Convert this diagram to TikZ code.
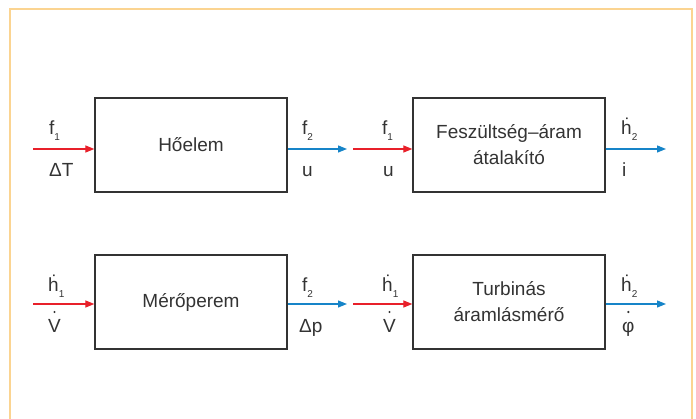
\documentclass[tikz,border=0pt]{standalone}
\usepackage{fontspec}
\setmainfont{Liberation Sans}
\usetikzlibrary{arrows.meta}

\definecolor{framecol}{RGB}{251,212,145}
\definecolor{inred}{RGB}{232,32,42}
\definecolor{outblue}{RGB}{22,132,200}
\definecolor{ink}{RGB}{51,51,51}

% lowered small index
\newcommand\idx[1]{\raisebox{-0.3em}{\fontsize{10}{10}\selectfont #1}}

\tikzset{
  block/.style={draw=ink, line width=1.3pt, minimum width=192pt, minimum height=94pt,
    inner sep=0pt, align=center, text=ink, font=\fontsize{19}{26}\selectfont},
  sig/.style={anchor=base west, inner sep=0pt, text=ink, font=\fontsize{19}{22}\selectfont},
  timedot/.style={fill=ink},
  inarrow/.style={draw=inred, line width=1.2pt, -{Triangle[length=9pt,width=7pt]}},
  outarrow/.style={draw=outblue, line width=1.2pt, -{Triangle[length=9pt,width=7pt]}},
}

\begin{document}
\begin{tikzpicture}[x=1pt, y=-1pt]
\useasboundingbox (0,0) rectangle (696,419);

% page frame (open at the bottom edge)
\draw[framecol, line width=2.4pt] (10,430) -- (10,9) -- (692,9) -- (692,430);

% blocks
\node[block] (b1) at (191,145) {Hőelem};
\node[block] (b2) at (509,145) {Feszültség–áram\\átalakító};
\node[block] (b3) at (191,302) {Mérőperem};
\node[block] (b4) at (509,302) {Turbinás\\áramlásmérő};

% free ends of the signal arrows
\coordinate (i1) at (33,149);
\coordinate (o1) at (347,149);
\coordinate (i2) at (353,149);
\coordinate (o2) at (666,149);
\coordinate (i3) at (33,304);
\coordinate (o3) at (347,304);
\coordinate (i4) at (353,304);
\coordinate (o4) at (666,304);

\draw[inarrow]  (i1) -- (i1 -| b1.west);
\draw[outarrow] (b1.east |- o1) -- (o1);
\draw[inarrow]  (i2) -- (i2 -| b2.west);
\draw[outarrow] (b2.east |- o2) -- (o2);
\draw[inarrow]  (i3) -- (i3 -| b3.west);
\draw[outarrow] (b3.east |- o3) -- (o3);
\draw[inarrow]  (i4) -- (i4 -| b4.west);
\draw[outarrow] (b4.east |- o4) -- (o4);

% signal labels, first row
\node[sig] (l1a) at (49,135) {f\idx{1}};
\node[sig] (l1b) at (49,177) {ΔT};
\node[sig] (l2a) at (302,135) {f\idx{2}};
\node[sig] (l2b) at (302,177) {u};
\node[sig] (l3a) at (382,135) {f\idx{1}};
\node[sig] (l3b) at (383,177) {u};
\node[sig] (l4a) at (621,135) {ḣ\idx{2}};
\node[sig] (l4b) at (622,177) {i};

% signal labels, second row
\node[sig] (l5a) at (48,292) {ḣ\idx{1}};
\node[sig] (l5b) at (48,333) {V};
\node[sig] (l6a) at (302,292) {f\idx{2}};
\node[sig] (l6b) at (299,333) {Δp};
\node[sig] (l7a) at (382,292) {ḣ\idx{1}};
\node[sig] (l7b) at (383,333) {V};
\node[sig] (l8a) at (621,292) {ḣ\idx{2}};
\node[sig] (l8b) at (622,333) {φ};

% time-derivative dots over V and phi
\fill[timedot] ([yshift=21pt]l5b.base) circle (1.15pt);
\fill[timedot] ([yshift=21pt]l7b.base) circle (1.15pt);
\fill[timedot] ([yshift=21pt]l8b.base) circle (1.15pt);
\end{tikzpicture}
\end{document}
